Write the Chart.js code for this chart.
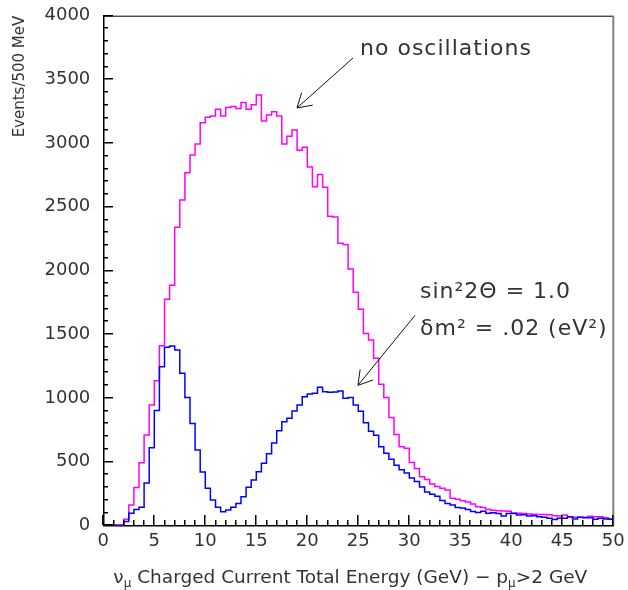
<!DOCTYPE html>
<html>
<head>
<meta charset="utf-8">
<script src="https://cdn.jsdelivr.net/npm/chart.js@4.4.0/dist/chart.umd.min.js"></script>
<style>
  html, body { margin: 0; padding: 0; background: #fff; }
  #wrap { width: 628px; height: 590px; }
</style>
</head>
<body>
<div id="wrap"><canvas id="chart"></canvas></div>
<script>
// bins of 500 MeV from 0 to 50 GeV
const binWidth = 0.5;
const xMax = 50;

// no oscillations (magenta)
const noOscillations = [
  0, 0, 0, 0, 47, 159, 297, 490, 708, 944,
  1135, 1410, 1774, 1884, 2339, 2553, 2768, 2906, 2993, 3160,
  3202, 3212, 3265, 3212, 3280, 3288, 3272, 3319, 3265, 3301,
  3377, 3174, 3220, 3247, 3212, 2993, 3054, 3103, 2944, 2967,
  2812, 2658, 2754, 2653, 2425, 2420, 2213, 2205, 2012, 1830,
  1695, 1505, 1454, 1311, 1107, 1004, 847, 712, 617, 604,
  493, 445, 382, 360, 325, 305, 290, 277, 212, 204,
  193, 182, 167, 146, 140, 125, 118, 115, 113, 110,
  92, 94, 92, 88, 86, 85, 84, 82, 74, 73,
  80, 68, 64, 63, 63, 72, 68, 67, 60, 50
];

// sin^2 2theta = 1.0, dm^2 = .02 eV^2 (blue)
const withOscillations = [
  0, 0, 0, 0, 30, 94, 124, 142, 333, 608,
  902, 1245, 1397, 1407, 1376, 1193, 1004, 800, 591, 418,
  290, 198, 141, 107, 120, 141, 172, 225, 298, 356,
  421, 487, 562, 646, 743, 813, 840, 897, 944, 1010,
  1031, 1036, 1083, 1049, 1044, 1046, 1054, 997, 1004, 944,
  895, 805, 738, 706, 617, 565, 518, 471, 437, 410,
  372, 343, 300, 262, 243, 228, 195, 171, 159, 140,
  136, 125, 108, 100, 110, 95, 98, 92, 73, 92,
  94, 80, 82, 73, 75, 68, 63, 55, 45, 55,
  55, 68, 50, 63, 60, 60, 47, 55, 49, 47
];

const xTickValues = [0, 5, 10, 15, 20, 25, 30, 35, 40, 45, 50];
const yTickValues = [0, 500, 1000, 1500, 2000, 2500, 3000, 3500, 4000];
const xMinorStep = 1;
const yMinorStep = 100;

// labels and arrows, in data units
const notes = [
  { text: 'no oscillations', x: 25.17, y: 3692 },
  { text: 'sin\u00B22\u0398 = 1.0', x: 31.05, y: 1786 },
  { text: '\u03B4m\u00B2 = .02 (eV\u00B2)', x: 31.05, y: 1494 }
];
const arrows = [
  { from: [24.48, 3668], to: [18.99, 3276] },
  { from: [30.56, 1648], to: [24.97, 1099] }
];

const FONT = '"DejaVu Sans", sans-serif';
const TEXT = '#333';

// step histogram points: left edge of each bin, then drop to 0 at the end
function histPoints(values) {
  const pts = values.map((v, i) => ({ x: i * binWidth, y: v }));
  pts.push({ x: xMax, y: 0 });
  return pts;
}

// inward ticks, frame, annotations, x title with subscripts
const decorations = {
  id: 'decorations',
  afterDraw(chart) {
    const ctx = chart.ctx;
    const a = chart.chartArea;
    const x = chart.scales.x, y = chart.scales.y;
    ctx.save();

    // frame top/right
    ctx.strokeStyle = '#000';
    ctx.lineWidth = 1;
    ctx.beginPath();
    ctx.moveTo(a.left, a.top + 0.5);
    ctx.lineTo(a.right, a.top + 0.5);
    ctx.stroke();
    ctx.strokeStyle = '#808080';
    ctx.lineWidth = 2;
    ctx.beginPath();
    ctx.moveTo(a.right, a.top);
    ctx.lineTo(a.right, a.bottom);
    ctx.stroke();

    // ticks pointing into the plot
    ctx.fillStyle = '#000';
    for (let v = 0; v <= xMax; v += xMinorStep) {
      const px = Math.round(x.getPixelForValue(v));
      const len = v % 5 === 0 ? 10 : 5;
      ctx.fillRect(px - 1, Math.round(a.bottom) - len, 1.5, len);
    }
    for (let v = 0; v <= 4000; v += yMinorStep) {
      const py = Math.round(y.getPixelForValue(v));
      const len = v % 500 === 0 ? 10 : 5;
      ctx.fillRect(Math.round(a.left), py - 1, len, 1.5);
    }

    // arrows
    ctx.strokeStyle = '#111';
    ctx.lineWidth = 1;
    arrows.forEach(ar => {
      const x1 = x.getPixelForValue(ar.from[0]), y1 = y.getPixelForValue(ar.from[1]);
      const x2 = x.getPixelForValue(ar.to[0]), y2 = y.getPixelForValue(ar.to[1]);
      const ang = Math.atan2(y1 - y2, x1 - x2);
      const head = 16, spread = 0.55;
      ctx.beginPath();
      ctx.moveTo(x1, y1);
      ctx.lineTo(x2, y2);
      ctx.moveTo(x2 + head * Math.cos(ang + spread), y2 + head * Math.sin(ang + spread));
      ctx.lineTo(x2, y2);
      ctx.lineTo(x2 + head * Math.cos(ang - spread), y2 + head * Math.sin(ang - spread));
      ctx.stroke();
    });

    // annotation text
    ctx.fillStyle = TEXT;
    ctx.font = '22px ' + FONT;
    ctx.textAlign = 'left';
    ctx.textBaseline = 'alphabetic';
    ctx.letterSpacing = '1px';
    notes.forEach(n => {
      ctx.fillText(n.text, x.getPixelForValue(n.x), y.getPixelForValue(n.y));
    });
    ctx.letterSpacing = '0px';

    // x axis title with subscripts
    const parts = [
      ['\u03BD', false], ['\u03BC', true], [' Charged Current Total Energy (GeV) \u2212 p', false],
      ['\u03BC', true], ['>2 GeV', false]
    ];
    const main = '18.5px ' + FONT, sub = '12px ' + FONT;
    let total = 0;
    parts.forEach(([t, s]) => { ctx.font = s ? sub : main; total += ctx.measureText(t).width; });
    let cx = (a.left + a.right) / 2 - 8 - total / 2;
    const base = a.bottom + 58;
    parts.forEach(([t, s]) => {
      ctx.font = s ? sub : main;
      ctx.fillText(t, cx, s ? base + 4 : base);
      cx += ctx.measureText(t).width;
    });

    ctx.restore();
  }
};

new Chart(document.getElementById('chart'), {
  type: 'line',
  data: {
    datasets: [
      {
        label: 'sin²2Θ = 1.0, δm² = .02',
        data: histPoints(withOscillations),
        borderColor: '#0000ff',
        borderWidth: 1.5,
        stepped: true,
        pointRadius: 0,
        fill: false
      },
      {
        label: 'no oscillations',
        data: histPoints(noOscillations),
        borderColor: '#ff00ff',
        borderWidth: 1.5,
        stepped: true,
        pointRadius: 0,
        fill: false
      }
    ]
  },
  options: {
    responsive: true,
    maintainAspectRatio: false,
    animation: false,
    events: [],
    layout: { padding: { top: 15.7, right: 14.7, left: 0, bottom: 0 } },
    plugins: { legend: { display: false }, tooltip: { enabled: false } },
    scales: {
      x: {
        type: 'linear',
        min: 0,
        max: xMax,
        grid: { display: false, drawTicks: false },
        border: { display: true, color: '#000', width: 1.5 },
        afterBuildTicks: s => { s.ticks = xTickValues.map(v => ({ value: v })); },
        afterFit: s => { s.height = 64.7; s.paddingLeft = 0; s.paddingRight = 0; },
        ticks: {
          maxRotation: 0,
          padding: 5,
          color: TEXT,
          font: { family: FONT, size: 18 },
          callback: v => String(v)
        }
      },
      y: {
        min: 0,
        max: 4000,
        grid: { display: false, drawTicks: false },
        border: { display: true, color: '#000', width: 1.5 },
        afterBuildTicks: s => { s.ticks = yTickValues.map(v => ({ value: v })); },
        afterFit: s => { s.width = 103.3; s.paddingTop = 0; s.paddingBottom = 0; },
        ticks: {
          padding: 13,
          color: TEXT,
          font: { family: FONT, size: 18 },
          callback: v => String(v)
        },
        title: {
          display: true,
          text: 'Events/500 MeV',
          align: 'end',
          color: TEXT,
          font: { family: FONT, size: 15 },
          padding: { top: 11, bottom: 0 }
        }
      }
    }
  },
  plugins: [decorations]
});
</script>
</body>
</html>
